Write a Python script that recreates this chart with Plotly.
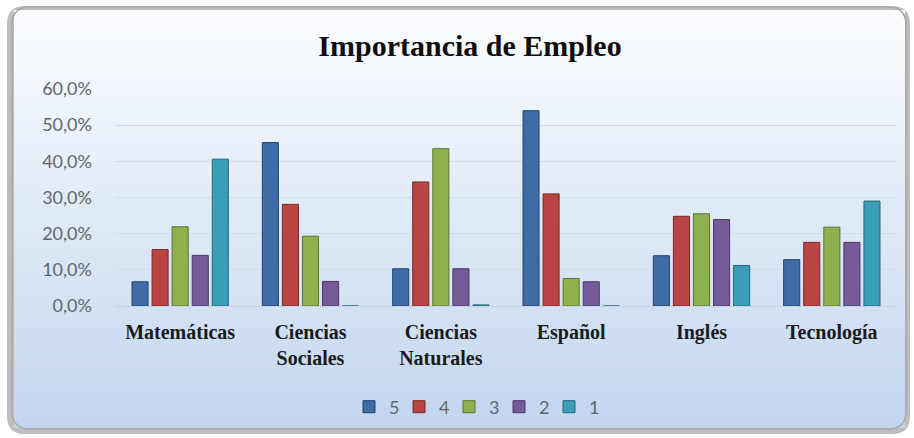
import plotly.graph_objects as go

categories = ["Matemáticas", "Ciencias<br>Sociales", "Ciencias<br>Naturales", "Español", "Inglés", "Tecnología"]
series_names = ["5", "4", "3", "2", "1"]
v5 = [0.067, 0.452, 0.103, 0.540, 0.139, 0.128]
v4 = [0.156, 0.281, 0.343, 0.310, 0.248, 0.176]
v3 = [0.219, 0.193, 0.435, 0.076, 0.255, 0.218]
v2 = [0.140, 0.068, 0.103, 0.067, 0.239, 0.176]
v1 = [0.406, 0.000, 0.003, 0.000, 0.112, 0.290]
y_ticks = [0.0, 0.1, 0.2, 0.3, 0.4, 0.5, 0.6]

colors = ["#3E6CA6", "#B94441", "#8FB04C", "#745A99", "#3A9EB9"]
edges = ["#24436B", "#7A2A28", "#5C7530", "#4A3866", "#22677A"]

W, H = 914, 438
L, R, T, B = 115, 17, 89, 132
pw, ph = W - L - R, H - T - B

def px(x):
    return (x - L) / pw

def py(y):
    return (H - B - y) / ph

fig = go.Figure()
for name, vals, c, e in zip(series_names, [v5, v4, v3, v2, v1], colors, edges):
    fig.add_trace(go.Bar(
        x=categories, y=vals, name=name,
        marker=dict(color=c, line=dict(color=e, width=1)),
    ))

def rounded(x0, y0, x1, y1, r):
    X0, X1 = px(x0), px(x1)
    Y0, Y1 = py(y0), py(y1)
    rx, ry = r / pw, r / ph
    return (f"M {X0+rx},{Y0} L {X1-rx},{Y0} Q {X1},{Y0} {X1},{Y0-ry} "
            f"L {X1},{Y1+ry} Q {X1},{Y1} {X1-rx},{Y1} L {X0+rx},{Y1} "
            f"Q {X0},{Y1} {X0},{Y1+ry} L {X0},{Y0-ry} Q {X0},{Y0} {X0+rx},{Y0} Z")

shapes = []
shapes.append(dict(type="path", xref="paper", yref="paper", layer="below",
                   path=rounded(7, 6, 910, 434, 18), fillcolor="#BDBDBD",
                   line=dict(width=0)))
top = (252, 253, 255)
bot = (194, 214, 239)
n = 60
y_start, y_end = 10, 428
for i in range(n):
    t = i / (n - 1)
    c = tuple(int(round(top[k] + (bot[k] - top[k]) * t)) for k in range(3))
    ya = y_start + (y_end - y_start) * i / n
    yb = min(y_start + (y_end - y_start) * (i + 1) / n + 2, y_end)
    shapes.append(dict(type="rect", xref="paper", yref="paper", layer="below",
                       x0=px(14), x1=px(905), y0=py(yb), y1=py(ya),
                       fillcolor=f"rgb{c}", line=dict(width=0)))
shapes.append(dict(type="path", xref="paper", yref="paper", layer="below",
                   path=rounded(12, 7, 906, 429, 18), fillcolor="rgba(0,0,0,0)",
                   line=dict(color="#A9A9A9", width=1.5)))

fig.update_layout(
    width=W, height=H,
    margin=dict(l=L, r=R, t=T, b=B),
    paper_bgcolor="white",
    plot_bgcolor="rgba(0,0,0,0)",
    separators=",.",
    barmode="group",
    bargap=0.23,
    bargroupgap=0.2,
    shapes=shapes,
    title=dict(text="<b>Importancia de Empleo</b>", x=px(470), xref="paper",
               xanchor="center", y=1 - 45 / H, yanchor="middle",
               font=dict(family="Liberation Serif", size=30, color="#0D0D0D")),
    xaxis=dict(showgrid=False, showline=True, linecolor="#C9D3DF", linewidth=1,
               ticks="", ticklabelstandoff=8,
               tickfont=dict(family="Liberation Serif", size=20, color="#1A1A1A", weight="bold")),
    yaxis=dict(range=[0, 0.6], tickvals=y_ticks, tickformat=".1%",
               showgrid=True, gridcolor="#D5DCE4", gridwidth=1,
               zeroline=False, showline=False, ticks="",
               ticklabelstandoff=22,
               tickfont=dict(family="Lato", size=18, color="#5F6670")),
    legend=dict(orientation="h", x=px(474), xanchor="center", y=py(407),
                yanchor="middle", bgcolor="rgba(0,0,0,0)", itemwidth=30,
                entrywidth=5, entrywidthmode="pixels",
                font=dict(family="Lato", size=18, color="#5F6670"),
                traceorder="normal"),
    showlegend=True,
)

fig.write_html("out.html", config={"displayModeBar": False},
               post_script="document.body.style.margin='0';document.body.style.overflow='hidden';")
